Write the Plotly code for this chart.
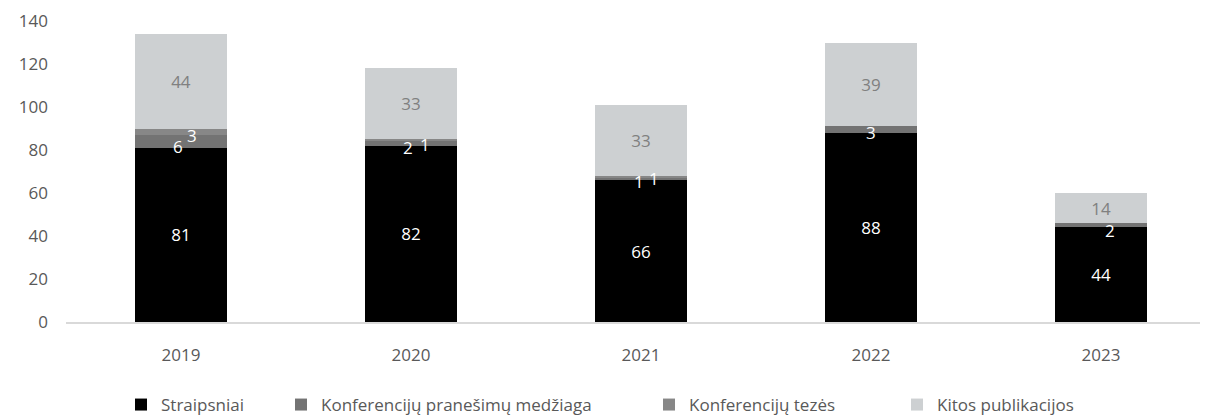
import plotly.graph_objects as go

years = ["2019", "2020", "2021", "2022", "2023"]
straipsniai = [81, 82, 66, 88, 44]
pranesimu_medziaga = [6, 2, 1, 3, 2]
tezes = [3, 1, 1, 0, 0]
kitos = [44, 33, 33, 39, 14]

series_names = ["Straipsniai", "Konferencijų pranešimų medžiaga",
                "Konferencijų tezės", "Kitos publikacijos"]
colors = ["#000000", "#737373", "#878787", "#cdd0d2"]

FONT = "Open Sans"
TXT = "#595959"

# page offset (browser body margin) compensated in layout size
W, H = 1200, 409
ML, MR, MT, MB = 58, 0, 13, 95
PLOT_W = W - ML - MR
PLOT_H = H - MT - MB

legend_names = ["legend", "legend2", "legend3", "legend4"]
legend_px = [113, 273, 641, 889]  # left position of each legend entry in figure px
LEGEND_CY = 397

fig = go.Figure()
data = [straipsniai, pranesimu_medziaga, tezes, kitos]
for i, (name, vals) in enumerate(zip(series_names, data)):
    big = i in (0, 3)
    fig.add_trace(go.Bar(
        x=years, y=vals, name=name, legend=legend_names[i],
        marker=dict(color=colors[i], line=dict(width=0)),
        text=[str(v) for v in vals] if big else None,
        textposition="inside" if big else "none",
        insidetextanchor="middle",
        textangle=0,
        textfont=dict(family=FONT, size=17,
                      color="#ffffff" if i == 0 else "#808080"),
    ))

# small-segment labels (annotations placed from cumulative data)
small_offsets = {
    1: [(-3, -5), (-3, -4), (-2, -2), (0, -3), (9, -5)],
    2: [(11, -4), (14, -4), (13, -2), (0, 0), (0, 0)],
}
for i in (1, 2):
    for j, y in enumerate(years):
        v = data[i][j]
        if v == 0:
            continue
        base = sum(data[k][j] for k in range(i))
        dx, dy = small_offsets[i][j]
        fig.add_annotation(x=j, y=base + v / 2, xref="x", yref="y",
                           text=str(v), showarrow=False,
                           xshift=dx, yshift=dy,
                           font=dict(family=FONT, size=17, color="#ffffff"))

legend_common = dict(orientation="h", yanchor="middle", xanchor="left",
                     y=-(LEGEND_CY - (MT + PLOT_H)) / PLOT_H,
                     font=dict(family=FONT, size=17, color=TXT),
                     bgcolor="rgba(0,0,0,0)", itemwidth=30)
layout_legends = {}
for ln, px in zip(legend_names, legend_px):
    layout_legends[ln] = dict(legend_common, x=(px - ML) / PLOT_W)

fig.update_layout(
    barmode="stack",
    bargap=0.6,
    width=W, height=H,
    margin=dict(l=ML, r=MR, t=MT, b=MB, autoexpand=False),
    plot_bgcolor="white", paper_bgcolor="white",
    font=dict(family=FONT, size=17, color=TXT),
    showlegend=True,
    uniformtext=dict(minsize=17, mode="show"),
    **layout_legends,
)
fig.update_xaxes(type="category", range=[-0.5, 4.465], showgrid=False, showline=True,
                 linecolor="#d9d9d9", linewidth=1.5, ticks="",
                 ticklabelstandoff=17, tickfont=dict(family=FONT, size=17, color=TXT))
fig.update_yaxes(range=[0, 140], dtick=20, showgrid=False, zeroline=False,
                 showline=False, ticklabelstandoff=17,
                 tickfont=dict(family=FONT, size=17, color=TXT))

fig.write_html("out.html")
